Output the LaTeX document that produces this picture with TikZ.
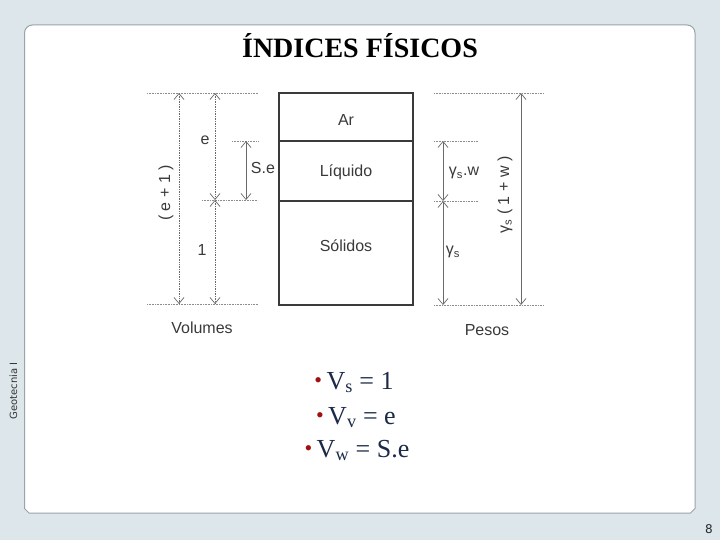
\documentclass[tikz,border=0pt]{standalone}
\usepackage{fontspec}
\setmainfont{Liberation Serif}
\setsansfont{Liberation Sans}
\newfontfamily\dvsans{DejaVu Sans}
\usetikzlibrary{arrows.meta}
\definecolor{bgblue}{HTML}{DDE6EB}
\definecolor{panelline}{HTML}{9AA3A8}
\definecolor{boxline}{HTML}{3A3A3A}
\definecolor{dotline}{HTML}{8C8C8C}
\definecolor{arrline}{HTML}{6A6A6A}
\definecolor{labtext}{HTML}{3A3A3A}
\definecolor{navy}{HTML}{1B2A48}
\definecolor{bulletred}{HTML}{A01010}
\tikzset{
  guide/.style={draw=dotline, densely dotted, line width=0.6pt},
  dim/.style={draw=arrline, line width=0.7pt, {Straight Barb[length=6pt,width=10pt]}-{Straight Barb[length=6pt,width=10pt]}},
  dimdot/.style={dim, densely dotted},
  cell/.style={draw=boxline, line width=2.4pt},
  lab/.style={font=\sffamily\fontsize{16}{16}\selectfont, text=labtext, inner sep=0pt},
  eqline/.style={font=\fontsize{26}{26}\selectfont, text=navy, anchor=base, inner sep=0pt},
}
\newcommand{\redbullet}{\raisebox{2pt}{\textcolor{bulletred}{\fontsize{22}{22}\selectfont •}}\,}
\begin{document}
\begin{tikzpicture}[x=1pt,y=-1pt]
\useasboundingbox (0,0) rectangle (720,540);
\fill[bgblue] (0,0) rectangle (720,540);
% panel
\path[draw=panelline, fill=white, line width=1pt]
  (29,513) -- (24.5,508.5) -- (24.5,33) .. controls (24.5,28.6) and (28.1,25) .. (32.5,25)
  -- (687,25) .. controls (691.4,25) and (695,28.6) .. (695,33) -- (695,508.5) -- (690.5,513) -- cycle;

% title
\node[font=\bfseries\fontsize{28}{28}\selectfont, anchor=base, inner sep=0pt] (title) at (360,58) {ÍNDICES FÍSICOS};

% side and page number
\node[font=\dvsans\fontsize{10}{10}\selectfont, text=black!80, rotate=90, inner sep=0pt] (course) at (13.5,391) {Geotecnia I};
\node[font=\dvsans\fontsize{12}{12}\selectfont, text=black!85, inner sep=0pt] (page) at (709,529.5) {8};

% phase box
\draw[cell] (279,93) rectangle (413,305);
\draw[cell] (279,141) -- (413,141);
\draw[cell] (279,201) -- (413,201);
\node[lab] (ar) at (346,120) {Ar};
\node[lab] (liq) at (346,172) {Líquido};
\node[lab] (sol) at (346,246) {Sólidos};

% left guides
\coordinate (Lt1) at (147,93);   \coordinate (Lt2) at (258,93);
\coordinate (Lm1) at (232,141);  \coordinate (Lm2) at (258,141);
\coordinate (Lw1) at (202,200);  \coordinate (Lw2) at (258,200);
\coordinate (Lb1) at (147,304);  \coordinate (Lb2) at (258,304);
\draw[guide] (Lt1) -- (Lt2);
\draw[guide] (Lm1) -- (Lm2);
\draw[guide] (Lw1) -- (Lw2);
\draw[guide] (Lb1) -- (Lb2);
% left arrows
\coordinate (A1t) at (179,93);  \coordinate (A1b) at (179,304);
\coordinate (A2t) at (215,93);  \coordinate (A2m) at (215,200); \coordinate (A2b) at (215,304);
\coordinate (A3t) at (246,141); \coordinate (A3b) at (246,200);
\draw[dimdot] (A1t) -- (A1b);
\draw[dimdot] (A2t) -- (A2m);
\draw[dimdot] (A2m) -- (A2b);
\draw[dim] (A3t) -- (A3b);
\node[lab] (le) at (205,140) {e};
\node[lab] (lone) at (202,250) {1};
\node[lab] (lse) at (263,168) {S.e};
\node[lab, rotate=90] (le1) at (166,193) {( e + 1 )};
\node[lab] (vol) at (202,328) {Volumes};

% right guides
\coordinate (Rt1) at (434,93);  \coordinate (Rt2) at (543,93);
\coordinate (Rm1) at (434,141); \coordinate (Rm2) at (478,141);
\coordinate (Rw1) at (434,201); \coordinate (Rw2) at (478,201);
\coordinate (Rb1) at (434,305); \coordinate (Rb2) at (543,305);
\draw[guide] (Rt1) -- (Rt2);
\draw[guide] (Rm1) -- (Rm2);
\draw[guide] (Rw1) -- (Rw2);
\draw[guide] (Rb1) -- (Rb2);
\coordinate (B1t) at (443,141); \coordinate (B1m) at (443,201); \coordinate (B1b) at (443,305);
\coordinate (B2t) at (521,93);  \coordinate (B2b) at (521,305);
\draw[dim] (B1t) -- (B1m);
\draw[dim] (B1m) -- (B1b);
\draw[dim] (B2t) -- (B2b);
\node[lab] (rsw) at (464,173) {γ\textsubscript{s}.w};
\node[lab] (rs) at (453,252) {γ\textsubscript{s}};
\node[lab, rotate=90] (rtot) at (505,195) {γ\textsubscript{s} ( 1 + w )};
\node[lab] (pes) at (487,330) {Pesos};

% equations
\node[eqline] (eq1) at (354,389) {\redbullet V\textsubscript{s} = 1};
\node[eqline] (eq2) at (356,424) {\redbullet V\textsubscript{v} = e};
\node[eqline] (eq3) at (357,457) {\redbullet V\textsubscript{w} = S.e};
\end{tikzpicture}
\end{document}
